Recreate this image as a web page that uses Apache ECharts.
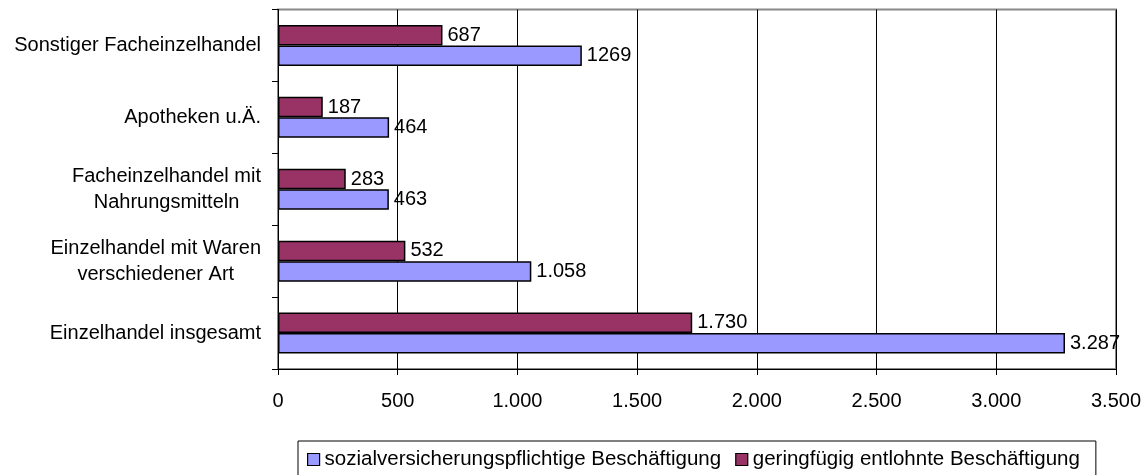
<!DOCTYPE html>
<html>
<head>
<meta charset="utf-8">
<script src="https://cdn.jsdelivr.net/npm/echarts@6/dist/echarts.min.js"></script>
<style>
html,body{margin:0;padding:0;background:#fff;}
#chart{width:1148px;height:475px;}
</style>
</head>
<body>
<div id="chart"></div>
<script>
const categories = [
  'Einzelhandel insgesamt',
  'Einzelhandel mit Waren\nverschiedener Art',
  'Facheinzelhandel mit\nNahrungsmitteln',
  'Apotheken u.Ä.',
  'Sonstiger Facheinzelhandel'
];
const seriesNames = ['sozialversicherungspflichtige Beschäftigung', 'geringfügig entlohnte Beschäftigung'];
const sozialValues = [3287, 1058, 463, 464, 1269];
const sozialLabels = ['3.287', '1.058', '463', '464', '1269'];
const geringValues = [1730, 532, 283, 187, 687];
const geringLabels = ['1.730', '532', '283', '187', '687'];
const xTicks = [0, 500, 1000, 1500, 2000, 2500, 3000, 3500];

const FONT = '"Liberation Sans", Arial, sans-serif';
const fmtNum = v => String(v).replace(/\B(?=(\d{3})+(?!\d))/g, '.');

const chart = echarts.init(document.getElementById('chart'), null, {renderer: 'canvas'});
const option = {
  animation: false,
  backgroundColor: '#fff',
  textStyle: {fontFamily: FONT},
  grid: {
    left: 278, right: 32, top: 9.5, bottom: 106,
    show: true, borderColor: '#888', borderWidth: 2, backgroundColor: 'transparent'
  },
  legend: {
    data: seriesNames,
    left: 298, top: 441,
    orient: 'horizontal',
    itemWidth: 12, itemHeight: 12, itemGap: 14,
    padding: [8, 16, 10, 9],
    borderColor: '#000', borderWidth: 1,
    icon: 'rect',
    itemStyle: {borderColor: '#000', borderWidth: 1.2},
    textStyle: {fontFamily: FONT, fontSize: 20.5, color: '#000'}
  },
  xAxis: {
    type: 'value', min: 0, max: 3500, interval: 500,
    axisLine: {show: true, lineStyle: {color: '#000', width: 1}},
    axisTick: {show: true, inside: false, length: 6, lineStyle: {color: '#000'}},
    splitLine: {show: true, lineStyle: {color: '#000', width: 1}},
    axisLabel: {
      fontFamily: FONT, fontSize: 20, color: '#000', margin: 22,
      formatter: v => xTicks.includes(v) ? fmtNum(v) : ''
    }
  },
  yAxis: {
    type: 'category', data: categories,
    axisLine: {show: true, lineStyle: {color: '#000', width: 1}},
    axisTick: {show: true, inside: false, length: 6, alignWithLabel: false, lineStyle: {color: '#000'}},
    splitLine: {show: false},
    axisLabel: {
      fontFamily: FONT, fontSize: 20, color: '#000', margin: 17, align: 'right',
      formatter: v => v.split('\n').map(l => '{c|' + l + '}').join('\n'),
      rich: {c: {fontFamily: FONT, fontSize: 20, color: '#000', align: 'center', lineHeight: 26}}
    }
  },
  series: [
    {
      name: seriesNames[1], type: 'bar', data: geringValues,
      barWidth: 20.5, barGap: '0%',
      itemStyle: {color: '#993366', borderColor: '#000', borderWidth: 1.5},
      label: {
        show: true, position: 'right', distance: 5,
        fontFamily: FONT, fontSize: 20, color: '#000',
        formatter: p => geringLabels[p.dataIndex]
      }
    },
    {
      name: seriesNames[0], type: 'bar', data: sozialValues,
      barWidth: 20.5, barGap: '0%',
      itemStyle: {color: '#9999FF', borderColor: '#000', borderWidth: 1.5},
      label: {
        show: true, position: 'right', distance: 5,
        fontFamily: FONT, fontSize: 20, color: '#000',
        formatter: p => sozialLabels[p.dataIndex]
      }
    }
  ]
};
chart.setOption(option);
</script>
</body>
</html>
